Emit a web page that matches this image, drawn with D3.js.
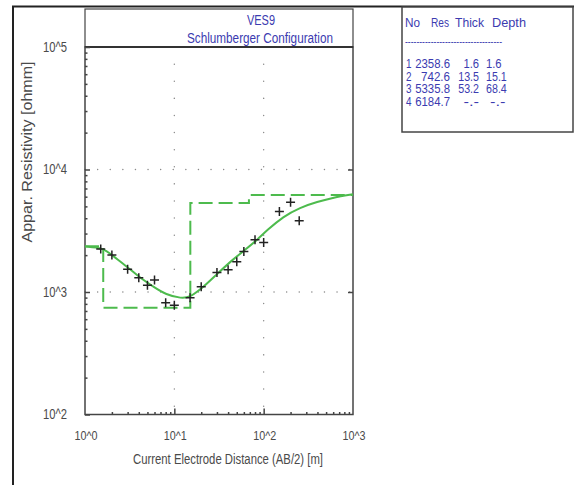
<!DOCTYPE html>
<html>
<head>
<meta charset="utf-8">
<script src="https://cdn.jsdelivr.net/npm/d3@7"></script>
<style>
  html, body { margin: 0; padding: 0; background: #ffffff; }
  svg { display: block; }
  text { font-family: "Liberation Sans", Arial, sans-serif; }
</style>
</head>
<body>
<svg id="chart" width="574" height="485"></svg>
<script>
// ---- Data ----
const abObs  = [1.5, 2, 3, 4, 5, 6, 8, 10, 15, 20, 30, 40, 50, 60, 80, 100, 150, 200, 250];
const rhoObs = [2240, 2000, 1535, 1310, 1135, 1254, 817, 778, 898, 1105, 1445, 1520, 1762, 2140, 2668, 2536, 4550, 5395, 3820];

const abCalc  = [1, 1.6, 2, 3, 4, 6, 8, 12, 15, 21, 30, 45, 65, 85, 110, 165, 255, 400, 600, 1000];
const rhoCalc = [2350, 2290, 2000, 1600, 1330, 1090, 955, 885, 905, 1090, 1400, 1840, 2270, 2680, 3210, 4120, 4900, 5450, 5900, 6280];

const layerNo    = ["1", "2", "3", "4"];
const layerRes   = [2358.6, 742.6, 5335.8, 6184.7];
const layerThick = [1.6, 13.5, 53.2];
const layerDepth = [1.6, 15.1, 68.4];

const xTickVals   = [1, 10, 100, 1000];
const xTickLabels = ["10^0", "10^1", "10^2", "10^3"];
const yTickVals   = [100, 1000, 10000, 100000];
const yTickLabels = ["10^2", "10^3", "10^4", "10^5"];

const titleLines = ["VES9", "Schlumberger Configuration"];
const xLabel = "Current Electrode Distance (AB/2) [m]";
const yLabel = "Appar. Resistivity [ohmm]";

// ---- Setup ----
const svg = d3.select("#chart");
const L = 85, R = 353, T = 47, B = 414.5;
const x = d3.scaleLog().domain([1, 1000]).range([L, R]);
const y = d3.scaleLog().domain([100, 100000]).range([B, T]);

const green = "#4dbb4d";
const axisCol = "#444";
const textGray = "#4a4a4a";
const blue = "#3b3bb0";

// narrow-text helper: real text, horizontally compressed to a given width
function nt(parent, str, xx, yy, size, width, anchor, fill) {
  const t = parent.append("text").attr("x", xx).attr("y", yy)
    .attr("font-size", size).attr("fill", fill)
    .attr("text-anchor", anchor || "start").text(str);
  if (width) t.attr("textLength", width).attr("lengthAdjust", "spacingAndGlyphs");
  return t;
}

// outer frame (top and left edges)
svg.append("path").attr("d", "M13,485 L13,6.5 L574,6.5")
  .attr("fill", "none").attr("stroke", "#222").attr("stroke-width", 2);

// title box
svg.append("rect").attr("x", L).attr("y", 9).attr("width", R - L).attr("height", T - 9)
  .attr("fill", "#fff").attr("stroke", axisCol).attr("stroke-width", 1.2);
nt(svg, titleLines[0], 261, 25, 14, 28, "middle", blue);
nt(svg, titleLines[1], 260, 43, 14, 146, "middle", blue);

// grid (dotted)
const grid = svg.append("g").attr("stroke", "#8a8a8a").attr("stroke-width", 1.4)
  .attr("stroke-linecap", "round");
[1000, 10000].forEach(v => {
  grid.append("line").attr("x1", L).attr("x2", R).attr("y1", y(v)).attr("y2", y(v))
    .attr("stroke-dasharray", "0.1,12.5");
});
[10, 100].forEach(v => {
  grid.append("line").attr("x1", x(v)).attr("x2", x(v)).attr("y1", T).attr("y2", B)
    .attr("stroke-dasharray", "0.1,17");
});

// plot frame
svg.append("rect").attr("x", L).attr("y", T).attr("width", R - L).attr("height", B - T)
  .attr("fill", "none").attr("stroke", axisCol).attr("stroke-width", 1.5);
svg.append("line").attr("x1", L).attr("x2", R).attr("y1", T).attr("y2", T)
  .attr("stroke", "#333").attr("stroke-width", 2);

// ticks via axes
const minorY = [];
for (let d = 100; d < 100000; d *= 10) for (let k = 2; k <= 9; k++) minorY.push(d * k);
const minorX = [];
for (let d = 1; d < 1000; d *= 10) for (let k = 2; k <= 9; k++) minorX.push(d * k);

function tickAxis(axis, transform) {
  const g = svg.append("g").attr("transform", transform).call(axis);
  g.select(".domain").remove();
  g.selectAll("text").remove();
  g.selectAll("line").attr("stroke", axisCol).attr("stroke-width", 1.5);
  return g;
}
tickAxis(d3.axisRight(y).tickValues(minorY).tickSize(2.5), `translate(${L},0)`);
tickAxis(d3.axisRight(y).tickValues(yTickVals).tickSize(5), `translate(${L},0)`);
tickAxis(d3.axisLeft(y).tickValues([1000, 10000]).tickSize(5), `translate(${R},0)`);
tickAxis(d3.axisTop(x).tickValues(minorX).tickSize(2.5), `translate(0,${B})`);
tickAxis(d3.axisTop(x).tickValues([10, 100]).tickSize(6), `translate(0,${B})`);

// tick labels
const yl = svg.append("g");
yTickVals.forEach((v, i) => nt(yl, yTickLabels[i], 67, y(v) + 4.5, 14, 24, "end", textGray));
const xl = svg.append("g");
xTickVals.forEach((v, i) => nt(xl, xTickLabels[i], x(v) + 1, 440, 13.5, 23, "middle", textGray));

// axis titles
nt(svg, xLabel, 228, 464, 14, 190, "middle", textGray);
svg.append("text").attr("transform", "translate(32,152) rotate(-90)").attr("text-anchor", "middle")
  .attr("font-size", 14).attr("fill", textGray)
  .attr("textLength", 181).attr("lengthAdjust", "spacingAndGlyphs").text(yLabel);

// model step (dashed)
const bounds = [1].concat(layerDepth).concat([1000]);
const stepPts = [];
layerRes.forEach((r, i) => {
  stepPts.push([bounds[i], r]);
  stepPts.push([bounds[i + 1], r]);
});
svg.append("path").datum(stepPts)
  .attr("d", d3.line().x(d => x(d[0])).y(d => y(d[1])))
  .attr("fill", "none").attr("stroke", green).attr("stroke-width", 2)
  .attr("stroke-dasharray", "14,6");

// calculated curve
svg.append("path").datum(abCalc.map((a, i) => [a, rhoCalc[i]]))
  .attr("d", d3.line().x(d => x(d[0])).y(d => y(d[1])).curve(d3.curveBasis))
  .attr("fill", "none").attr("stroke", green).attr("stroke-width", 2);

// observed points '+'
const s = 4.5;
svg.append("g").selectAll("path").data(abObs.map((a, i) => [a, rhoObs[i]])).join("path")
  .attr("d", d => {
    const px = x(d[0]), py = y(d[1]);
    return `M${px - s},${py}H${px + s}M${px},${py - s}V${py + s}`;
  })
  .attr("stroke", "#222").attr("stroke-width", 1.5).attr("fill", "none");

// info box
const bx = 402, by = 7, bw = 171, bh = 125;
svg.append("rect").attr("x", bx).attr("y", by).attr("width", bw).attr("height", bh)
  .attr("fill", "#fff").attr("stroke", "#444").attr("stroke-width", 1.5);
const info = svg.append("g");
nt(info, "No", 405, 27, 13.5, 15, "start", blue);
nt(info, "Res", 431, 27, 13.5, 18, "start", blue);
nt(info, "Thick", 455, 27, 13.5, 29, "start", blue);
nt(info, "Depth", 492, 27, 13.5, 34, "start", blue);
nt(info, "----------------------------------", 405, 45, 10, 97, "start", blue);
const rowY = [68, 80.5, 93, 105.5];
layerNo.forEach((n, i) => {
  nt(info, n, 406, rowY[i], 12.5, 5.5, "start", blue);
  const rs = layerRes[i].toFixed(1);
  nt(info, rs, 450, rowY[i], 12.5, rs.length * 5.8, "end", blue);
  const th = i < layerThick.length ? layerThick[i].toFixed(1) : "-.-";
  nt(info, th, 479, rowY[i], 12.5, th.length * 5.2, "end", blue);
  const dp = i < layerDepth.length ? layerDepth[i].toFixed(1) : "-.-";
  nt(info, dp, i < layerDepth.length ? 486 : 490, rowY[i], 12.5, dp.length * 5.2, "start", blue);
});
</script>
</body>
</html>
